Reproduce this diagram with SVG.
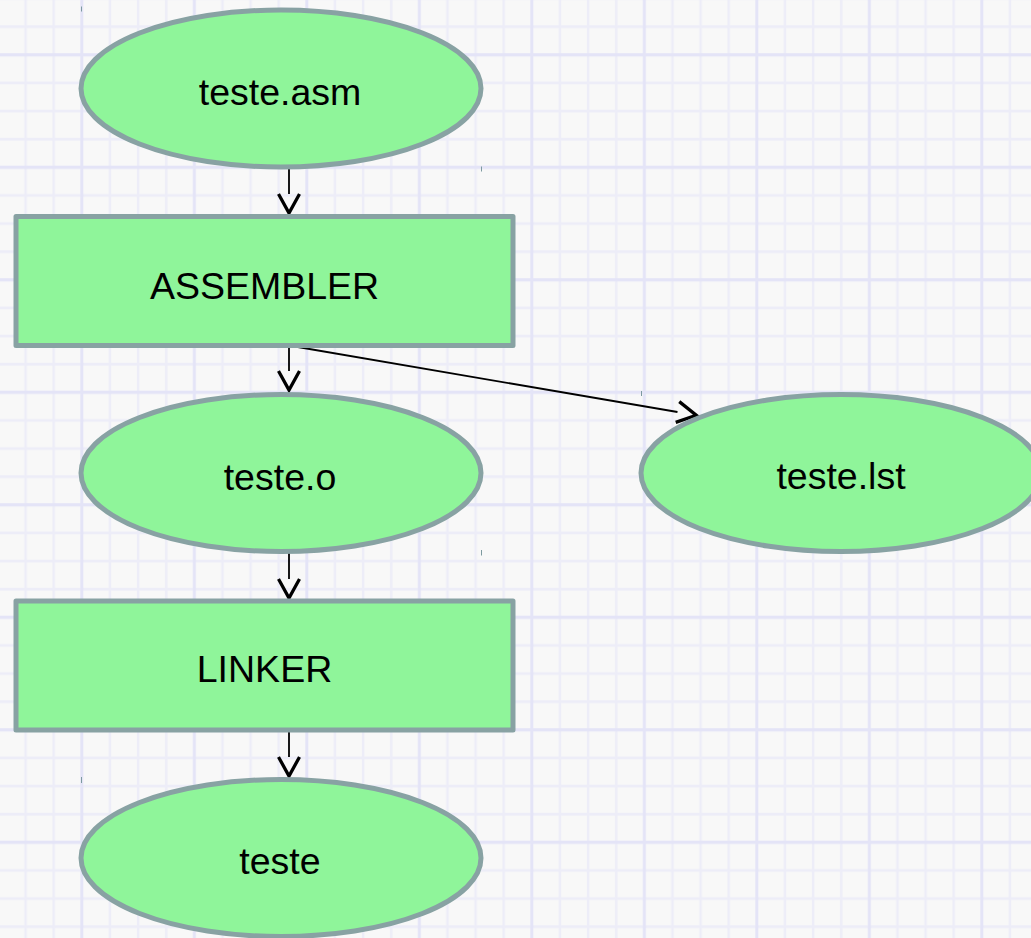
<svg xmlns="http://www.w3.org/2000/svg" width="1031" height="938" viewBox="0 0 1031 938">
  <style>
    .node { fill: #8ff59a; stroke: #88a2a3; stroke-width: 5; stroke-linejoin: round; }
    .label { font-family: "Liberation Sans", Arial, sans-serif; font-size: 37.5px; fill: #000; text-anchor: middle; }
    .conn { fill: none; stroke: #000; stroke-width: 1.8; }
    .tick { stroke: #7d9aa0; stroke-width: 1; }
    .gmin { stroke: #ededf8; stroke-width: 2.5; }
    .gmaj { stroke: #e4e4f7; stroke-width: 3; }
  </style>
  <defs>
    <pattern id="grid" patternUnits="userSpaceOnUse" x="11.54" y="-15.5" width="112.5" height="112.5">
      <line class="gmin" x1="14.0625" y1="0" x2="14.0625" y2="112.5"/>
      <line class="gmin" x1="42.1875" y1="0" x2="42.1875" y2="112.5"/>
      <line class="gmin" x1="98.4375" y1="0" x2="98.4375" y2="112.5"/>
      <line class="gmin" x1="0" y1="14.0625" x2="112.5" y2="14.0625"/>
      <line class="gmin" x1="0" y1="42.1875" x2="112.5" y2="42.1875"/>
      <line class="gmin" x1="0" y1="98.4375" x2="112.5" y2="98.4375"/>
      <line class="gmaj" x1="70.3125" y1="0" x2="70.3125" y2="112.5"/>
      <line class="gmaj" x1="0" y1="70.3125" x2="112.5" y2="70.3125"/>
    </pattern>
    <marker id="arrow" markerUnits="userSpaceOnUse" viewBox="-3 -15 28 30" markerWidth="28" markerHeight="30" refX="0" refY="0" orient="auto" overflow="visible">
      <path d="M0,-10.5 L19,0 L0,10.5" fill="none" stroke="#000" stroke-width="3.3"/>
    </marker>
  </defs>

  <rect x="0" y="0" width="1031" height="938" fill="#f8f8f8"/>
  <rect x="0" y="0" width="1031" height="938" fill="url(#grid)"/>

  <g id="connectors">
    <path class="conn" d="M289,168 V194" marker-end="url(#arrow)"/>
    <path class="conn" d="M289,345.5 V371" marker-end="url(#arrow)"/>
    <path class="conn" d="M289,345.5 L677.5,412" marker-end="url(#arrow)"/>
    <path class="conn" d="M289,553 V579" marker-end="url(#arrow)"/>
    <path class="conn" d="M289,731 V757" marker-end="url(#arrow)"/>
  </g>

  <g id="node-teste-asm">
    <ellipse class="node" cx="281" cy="88.5" rx="200" ry="78.5"/>
    <text class="label" x="280" y="104.5">teste.asm</text>
  </g>

  <g id="node-assembler">
    <rect class="node" x="16" y="216.5" width="497" height="129"/>
    <text class="label" x="264.5" y="298.5">ASSEMBLER</text>
  </g>

  <g id="node-teste-o">
    <ellipse class="node" cx="281" cy="473" rx="200" ry="78.5"/>
    <text class="label" x="280" y="489.5">teste.o</text>
  </g>

  <g id="node-teste-lst">
    <ellipse class="node" cx="841" cy="473" rx="200" ry="78.5"/>
    <text class="label" x="841" y="489">teste.lst</text>
  </g>

  <g id="node-linker">
    <rect class="node" x="16" y="601" width="497" height="129"/>
    <text class="label" x="264.5" y="682">LINKER</text>
  </g>

  <g id="node-teste">
    <ellipse class="node" cx="281" cy="858" rx="200" ry="78.5"/>
    <text class="label" x="280" y="873.5">teste</text>
  </g>

  <g id="ticks">
    <line class="tick" x1="81.5" y1="6.5" x2="81.5" y2="11.5"/>
    <line class="tick" x1="481.5" y1="166.5" x2="481.5" y2="171.5"/>
    <line class="tick" x1="481.5" y1="550" x2="481.5" y2="555.5"/>
    <line class="tick" x1="641.5" y1="391" x2="641.5" y2="396"/>
    <line class="tick" x1="81.5" y1="777" x2="81.5" y2="783"/>
  </g>
</svg>
